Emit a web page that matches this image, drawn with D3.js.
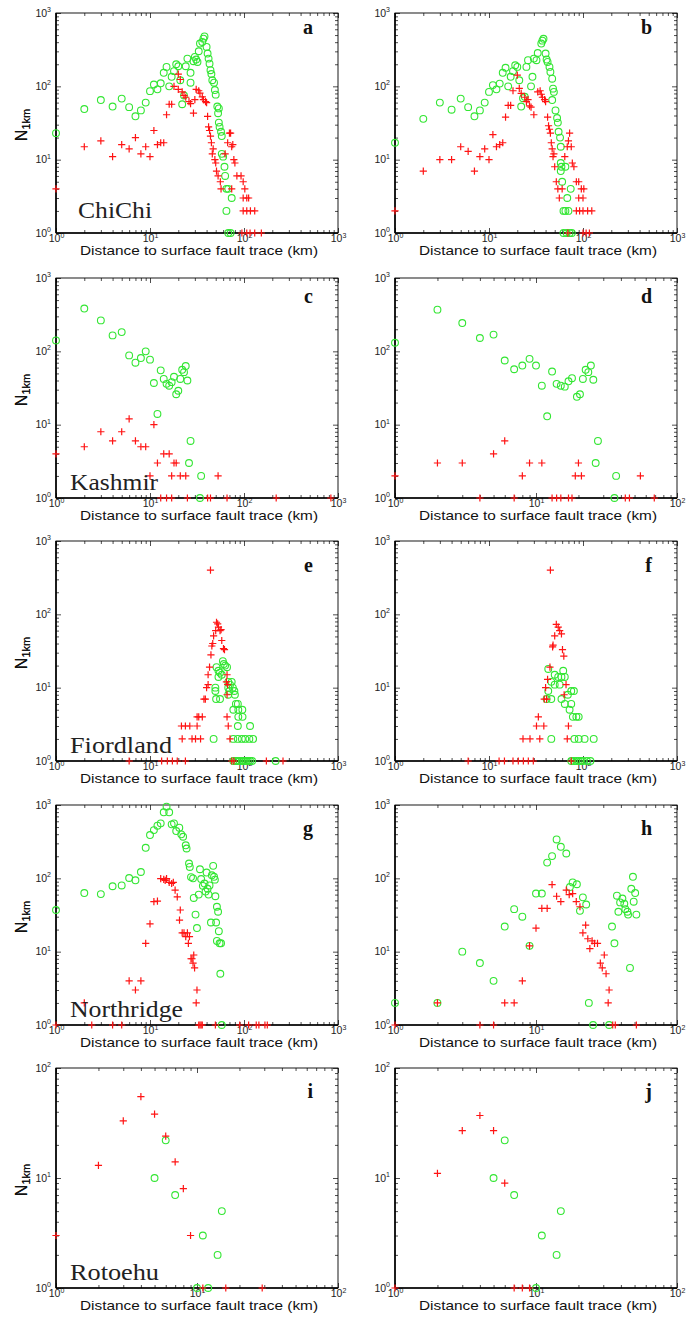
<!DOCTYPE html>
<html><head><meta charset="utf-8">
<script src="https://cdn.jsdelivr.net/npm/d3@7"></script>
<style>body{margin:0;background:#fff}</style>
</head><body>
<svg id="chart" width="686" height="1322"></svg>
<script>
// ---- data: [distance km, N1km] ----
const aGreen = [[1,23],[2,49],[3,65],[4,53],[5,68],[6,52],[7,39],[8,47],[9,60],[10,86],[11,106],[12,91],[13,110],[14,153],[15,184],[16,100],[17,135],[18,161],[19,200],[20,188],[21,121],[22,57],[23,75],[24,188],[25,239],[27,112],[27,153],[29,220],[30,252],[31,232],[32,215],[33,301],[34,383],[36,403],[37,447],[38,480],[40,345],[41,280],[42,239],[43,204],[44,166],[45,147],[46,121],[48,112],[49,89],[50,77],[52,53],[54,50],[53,43],[54,32],[55,28],[57,24],[58,21],[58,12],[60,11],[62,8],[63,6],[65,4],[68,4],[65,2],[74,3],[68,1],[72,1]];
const aRed = [[1,4],[2,15],[3,18],[4,11],[5,16],[6,14],[7,20],[8,12],[9,15],[10,11],[11,25],[12,16],[13,17],[14,17],[15,41],[16,57],[17,57],[18,100],[20,147],[20,91],[21,124],[22,84],[23,75],[24,71],[26,62],[27,58],[29,43],[30,66],[31,91],[33,87],[34,81],[36,72],[37,66],[39,62],[40,60],[41,39],[42,28],[43,25],[44,21],[45,17],[46,12],[47,14],[49,10],[50,9],[51,7],[53,6],[56,5],[57,4],[63,12],[67,17],[70,23],[72,23],[74,15],[76,16],[78,10],[80,9],[84,6],[93,6],[98,5],[102,4],[74,4],[98,3],[107,3],[112,3],[98,2],[107,2],[117,2],[130,2],[95,1],[107,1],[116,1],[130,1],[153,1]];
const bGreen = [[1,17],[2,36],[3,60],[4,48],[5,68],[6,52],[7,39],[8,47],[9,60],[10,84],[11,104],[12,91],[13,109],[14,153],[15,179],[16,100],[17,135],[18,161],[19,194],[20,184],[21,121],[22,53],[23,69],[24,72],[25,184],[26,227],[28,100],[29,135],[30,239],[32,227],[33,285],[36,383],[37,420],[38,445],[40,280],[41,232],[42,215],[44,184],[45,157],[47,127],[48,93],[49,84],[47,65],[51,47],[53,37],[54,32],[55,24],[57,20],[58,15],[58,9],[59,8],[58,7],[60,5],[65,8],[68,3],[74,4],[62,2],[65,2],[70,2],[62,1],[67,1],[72,1],[76,1]];
const bRed = [[1,2],[2,7],[3,10],[4,10],[5,15],[6,13],[7,7],[8,11],[9,14],[10,10],[11,22],[12,15],[13,16],[14,17],[15,38],[16,55],[17,55],[18,87],[20,142],[21,94],[22,80],[24,71],[25,62],[26,66],[27,54],[28,52],[30,41],[33,84],[35,87],[36,78],[37,71],[39,66],[40,62],[42,38],[43,29],[44,26],[45,23],[46,17],[47,14],[48,11],[49,12],[50,8],[52,5],[54,4],[56,3],[60,4],[64,11],[68,15],[70,18],[72,23],[75,15],[77,9],[80,8],[85,5],[90,5],[96,4],[102,4],[90,3],[100,3],[85,2],[92,2],[100,2],[112,2],[124,2],[69,1],[100,1],[108,1],[117,1]];
const cGreen = [[1,141],[2,383],[3,264],[4,165],[5,183],[6,88],[7,70],[8,81],[9,100],[10,77],[11,37],[12,14],[13,55],[14,42],[15,36],[16,34],[17,38],[18,45],[19,26],[20,29],[21,42],[22,56],[23,52],[24,63],[25,40],[27,6],[26,3],[35,2],[34,1]];
const cRed = [[1,4],[2,5],[3,8],[4,6],[5,8],[6,12],[7,6],[8,5],[9,5],[11,10],[10,2],[12,3],[14,4],[16,4],[18,3],[19,3],[17,2],[21,2],[24,2],[53,2],[13,1],[15,1],[17,1],[25,1],[41,1],[44,1],[66,1],[220,1],[840,1]];
const dGreen = [[1,131],[2,370],[3,243],[4,152],[5,169],[6,75],[7,57],[8,64],[9,79],[10,64],[11,34],[12,13],[13,53],[14,36],[15,34],[16,33],[17,39],[18,43],[19.5,24],[20.5,26],[21.5,42],[22.5,56],[23.5,52],[24.5,64],[25.5,41],[27.5,6],[26.5,3],[37,2],[36,1]];
const dRed = [[1,2],[2,3],[3,3],[5,4],[6,6],[8,2],[9,3],[11,3],[20,3],[19,2],[21,2],[55,2],[4,1],[7,1],[13,1],[14,1],[15,1],[17,1],[18,1],[43,1],[46,1],[69,1]];
const eGreen = [[59.6,23],[61,21],[63,20],[66,19],[51,19],[53.5,17],[55.5,16],[58,15],[53.5,14],[68,12],[74,12],[71,11],[76,10],[68,10],[49.6,10],[49.6,9],[70,9],[79,9],[80,8],[50.5,7],[55.6,7],[68,8],[82,6],[86,6],[77,5],[87,5],[96,5],[87,4],[96.5,4],[86,3],[116,3],[47.5,2],[77,2],[86,2],[95,2],[103,2],[114,2],[125,2],[77,1],[82,1],[86,1],[90,1],[95,1],[100,1],[105,1],[110,1],[116,1],[122,1],[217,1]];
const eRed = [[44,400],[51,78],[52.5,74],[53.5,67],[50,60],[55.6,60],[57,62],[47.5,51],[58,44],[46.5,40],[60.5,34],[62,33],[45.5,37],[44.5,28],[43,19],[41.5,15],[41.5,11],[40,10],[37.5,7],[38.8,7],[31.7,4],[33,4],[36,4],[21.6,3],[23.8,3],[26.5,3],[31.7,3],[22,2],[28,2],[30.5,2],[34.5,2],[66,15],[65,12],[67,11],[66,8],[66,4],[68,3],[71,2],[6,1],[13.3,1],[15.3,1],[17.3,1],[19.5,1],[23.8,1],[74,1],[78,1],[173,1],[260,1]];
const fGreen = [[42.7,18],[61.6,17],[50,15],[54.5,14],[59,14],[64,14],[46,12],[50,11],[56.5,11],[42.7,9],[75,9],[80,9],[69,8],[41,7],[46,7],[59,7],[64,6],[75,6],[72,5],[78,4],[85,4],[90,4],[46,2],[81,2],[90,2],[104,2],[130,2],[75,1],[80,1],[85,1],[90,1],[95,1],[100,1],[110,1],[120,1]];
const fRed = [[45,400],[52,73],[54.5,67],[56.5,60],[50,51],[59,54],[47.5,36],[48,38],[60.5,33],[62.5,27],[44.5,19],[42,13],[40,10],[38.7,7],[41,7],[33.5,4],[32,3],[38.3,3],[23,2],[27.3,2],[34.7,2],[66,11],[63,8],[70,3],[68,2],[6,1],[12.8,1],[14.6,1],[18,1],[20.5,1],[23.2,1],[26.2,1],[29.6,1],[75,1]];
const gGreen = [[1,37],[2,63],[3,61],[4,78],[5,80],[6,101],[7,94],[8,122],[9,261],[10,389],[11,455],[12,522],[13,562],[14,795],[15,950],[16,795],[17,545],[18,562],[19,441],[20.5,490],[21.5,398],[22.5,369],[24,282],[24.5,255],[26,159],[26.5,143],[27.3,104],[28.7,100],[29.2,54],[30.5,32],[31.6,21],[33,60],[34,133],[35,98],[36.5,79],[38,85],[39,66],[40,120],[41,72],[42,60],[43,80],[44.5,25],[45.5,110],[47,148],[48,105],[49,96],[49.6,57],[50.5,25],[51.5,41],[53,35],[54,19],[51.5,14],[55,13],[57,13],[56,5],[58,1]];
const gRed = [[1,1],[2,2],[2.4,1],[4,1],[5,1],[6,4],[7,3],[8,4],[9,13],[10,24],[11,48],[12,49],[13,99],[14,97],[14.5,94],[15,99],[16,88],[17,85],[17.7,88],[18.5,69],[19.5,56],[21,37],[20.6,27],[22,18],[23,18],[24,16],[25,18],[25.6,13],[26.3,16],[27.3,8],[28,8],[28.7,7],[29.8,6],[29.2,9],[31.6,3],[31,2],[33,1],[34,1],[35,1],[36,1],[49.6,1],[90,1],[112,1],[135,1],[144,1],[167,1],[177,1]];
const hGreen = [[1,2],[2,2],[3,10],[4,7],[5,4],[6,22],[7,38],[8,30],[9,12],[10,62],[11,62],[12,164],[13,201],[14,339],[15,269],[16.4,218],[17.4,76],[18.2,88],[19.5,83],[20.5,36],[21.5,55],[22.7,44],[23.7,2],[25.4,1],[33,1],[34.6,22],[36,13],[37.5,58],[38.4,35],[39.5,47],[41,53],[42.3,45],[43,38],[44.5,35],[45,32],[46.4,6],[47.4,72],[48.7,105],[49.3,48],[50.5,63],[51.5,32]];
const hRed = [[1,1],[2,2],[4,1],[5,1],[6,2],[7,2],[8,4],[9,12],[10,21],[11,39],[12,39],[13,82],[14,57],[15,48],[16.4,69],[17.2,60],[18.2,62],[19.3,48],[20.5,41],[21.5,18],[22.5,23],[23.3,15],[24.1,11],[25,14],[26,13],[27.3,13],[28.6,7],[29.5,6],[30.5,9],[31.4,5],[33,3],[32.5,2],[35,1],[36.5,1],[51.5,1]];
const iGreen = [[6,22],[5,10],[7,7],[15,5],[11,3],[14,2],[10,1],[12,1]];
const iRed = [[1,3],[2,13],[3,33],[4,55],[5,38],[6,24],[7,14],[8,8],[9,3],[11,1],[16,1],[29,1]];
const jGreen = [[6,22],[5,10],[7,7],[15,5],[11,3],[14,2],[10,1]];
const jRed = [[1,1],[2,11],[3,27],[4,37],[5,27],[6,9],[7,1],[8,1],[9,1]];

const panelLetters = ['a','b','c','d','e','f','g','h','i','j'];
const eventNames = ['ChiChi','Kashmir','Fiordland','Northridge','Rotoehu'];
const xMaxes = [1000,1000,1000,100,1000,1000,1000,100,100,100];
const yMaxes = [1000,1000,1000,1000,1000,1000,1000,1000,100,100];
const greens = [aGreen,bGreen,cGreen,dGreen,eGreen,fGreen,gGreen,hGreen,iGreen,jGreen];
const reds = [aRed,bRed,cRed,dRed,eRed,fRed,gRed,hRed,iRed,jRed];
const xLabel = 'Distance to surface fault trace (km)';

// ---- layout ----
const colX = [56, 395], rowY = [13, 278, 541, 805, 1068];
const PW = 282, PH = 220;
const nameLen = [74, 88, 102, 113, 89];
const letterDy = [21, 25, 31, 30, 30];

const svg = d3.select('#chart');
const GREEN = '#33e633', RED = '#ff1414';

function sup(sel){
  sel.each(function(d){
    const t = d3.select(this).text('');
    t.append('tspan').text('10');
    t.append('tspan').attr('dy','-4.5').attr('font-size','7px').text(Math.round(Math.log10(d)));
  });
}

panelLetters.forEach((L, k) => {
  const c = k % 2, r = Math.floor(k / 2);
  const x0 = colX[c], y0 = rowY[r];
  const x = d3.scaleLog().domain([1, xMaxes[k]]).range([x0, x0 + PW]);
  const y = d3.scaleLog().domain([1, yMaxes[k]]).range([y0 + PH, y0]);
  const g = svg.append('g');

  const isMaj = v => Math.abs(Math.log10(v) - Math.round(Math.log10(v))) < 1e-9;
  const xAll = x.ticks(), yAll = y.ticks();
  const xMaj = xAll.filter(isMaj), xMin = xAll.filter(v => !isMaj(v));
  const yMaj = yAll.filter(isMaj), yMin = yAll.filter(v => !isMaj(v));

  const mk = (gen, tr, vals, len, labels) => {
    const a = g.append('g').attr('transform', tr)
      .call(gen.tickValues(vals).tickSizeInner(-len).tickSizeOuter(0).tickPadding(labels ? 4 : 0)
        .tickFormat(labels ? (d => d) : () => ''));
    a.select('.domain').remove();
    a.selectAll('line').attr('stroke', '#000').attr('stroke-width', 0.7);
    a.selectAll('text').attr('fill', '#222').attr('font-family', 'Liberation Sans, Arial, sans-serif').attr('font-size', '10.5px');
    return a;
  };
  const bx = mk(d3.axisBottom(x), `translate(0,${y0 + PH})`, xMaj, 5, true);
  bx.selectAll('text').call(sup).attr('y', 2).attr('dy', '0.71em');
  mk(d3.axisBottom(x), `translate(0,${y0 + PH})`, xMin, 3, false);
  mk(d3.axisTop(x), `translate(0,${y0})`, xMaj, 5, false);
  mk(d3.axisTop(x), `translate(0,${y0})`, xMin, 3, false);
  const ly = mk(d3.axisLeft(y), `translate(${x0},0)`, yMaj, 5, true);
  ly.selectAll('text').call(sup).attr('x', -5).attr('dy', '0.3em');
  mk(d3.axisLeft(y), `translate(${x0},0)`, yMin, 3, false);
  mk(d3.axisRight(y), `translate(${x0 + PW},0)`, yMaj, 5, false);
  mk(d3.axisRight(y), `translate(${x0 + PW},0)`, yMin, 3, false);

  // frame
  g.append('rect').attr('x', x0).attr('y', y0).attr('width', PW).attr('height', PH)
    .attr('fill', 'none').attr('stroke', '#000').attr('stroke-width', 0.9);
  g.append('line').attr('x1', x0).attr('x2', x0).attr('y1', y0).attr('y2', y0 + PH).attr('stroke', '#000').attr('stroke-width', 1.6);
  g.append('line').attr('x1', x0).attr('x2', x0 + PW).attr('y1', y0 + PH).attr('y2', y0 + PH).attr('stroke', '#000').attr('stroke-width', 1.6);

  // axis titles
  g.append('text').attr('x', x0 + PW / 2 + 2).attr('y', y0 + PH + 22).attr('text-anchor', 'middle')
    .attr('font-family', 'Liberation Sans, Arial, sans-serif').attr('font-size', '13.5px').attr('fill', '#111')
    .attr('textLength', 238).attr('lengthAdjust', 'spacingAndGlyphs').text(xLabel);
  const yl = g.append('text').attr('transform', `translate(27,${y0 + PH / 2 + 2}) rotate(-90)`).attr('text-anchor', 'middle')
    .attr('font-family', 'Liberation Sans, Arial, sans-serif').attr('fill', '#111');
  yl.append('tspan').attr('font-size', '16px').text('N');
  yl.append('tspan').attr('font-size', '11px').attr('dy', '3').text('1km');

  // data
  g.append('g').selectAll('circle').data(greens[k]).join('circle')
    .attr('cx', d => x(d[0])).attr('cy', d => y(d[1])).attr('r', 3.4)
    .attr('fill', 'none').attr('stroke', GREEN).attr('stroke-width', 1.1);
  g.append('g').selectAll('path').data(reds[k]).join('path')
    .attr('d', d => { const px = x(d[0]), py = y(d[1]); return `M${px - 3.6},${py}H${px + 3.6}M${px},${py - 3.6}V${py + 3.6}`; })
    .attr('stroke', RED).attr('stroke-width', 1.2).attr('fill', 'none');

  // letters & names
  g.append('text').attr('x', x0 + PW - 25).attr('y', y0 + letterDy[r]).attr('text-anchor', 'end')
    .attr('font-family', 'Liberation Serif, Times New Roman, serif').attr('font-weight', 'bold')
    .attr('font-size', '20px').attr('fill', '#111').text(L);
  if (c === 0) {
    g.append('text').attr('x', r === 0 ? x0 + 22 : x0 + 14).attr('y', y0 + PH - (r === 0 ? 15 : 8))
      .attr('font-family', 'Liberation Serif, Times New Roman, serif').attr('font-size', '24px').attr('fill', '#222')
      .attr('textLength', nameLen[r]).attr('lengthAdjust', 'spacingAndGlyphs').text(eventNames[r]);
  }
});
</script>
</body></html>
